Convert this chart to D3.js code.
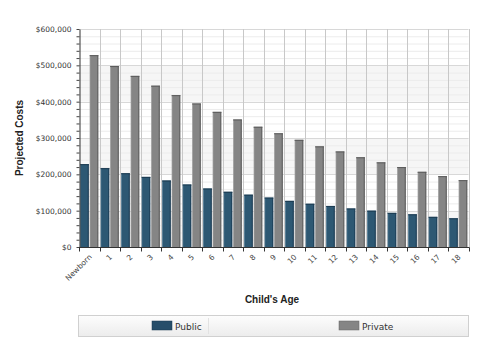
<!DOCTYPE html>
<html><head><meta charset="utf-8">
<script src="https://cdn.jsdelivr.net/npm/d3@7"></script>
<style>body{margin:0;background:#fff}svg{display:block}</style>
</head><body>
<svg id="c" width="480" height="360"></svg>
<script>
const categories = ["Newborn","1","2","3","4","5","6","7","8","9","10","11","12","13","14","15","16","17","18"];
const publicCosts = [228000,217000,203000,193000,183000,172000,161000,152000,144000,136000,127000,119000,113000,106000,100000,94000,90000,83000,79000];
const privateCosts = [528000,498000,471000,444000,418000,395000,372000,351000,331000,313000,295000,277000,263000,247000,233000,220000,207000,195000,184000];
const seriesNames = ["Public","Private"];
const yTicks = [0,100000,200000,300000,400000,500000,600000];

const svg = d3.select("#c");
const m = {l:79, r:468.5, t:29, b:247};
const x = d3.scaleBand().domain(categories).range([m.l, m.r]).padding(0);
const x1 = d3.scaleBand().domain(seriesNames).range([0, x.bandwidth()]).paddingInner(0.08).paddingOuter(0.12);
const y = d3.scaleLinear().domain([0,600000]).range([m.b, m.t]);

const defs = svg.append("defs");
function barGrad(id, light, mid, dark){
  const g = defs.append("linearGradient").attr("id",id).attr("x1","0").attr("x2","1").attr("y1","0").attr("y2","0");
  g.append("stop").attr("offset","0").attr("stop-color",light);
  g.append("stop").attr("offset","0.15").attr("stop-color",mid);
  g.append("stop").attr("offset","0.8").attr("stop-color",mid);
  g.append("stop").attr("offset","1").attr("stop-color",dark);
}
barGrad("gPub","#4a7590","#2d5873","#14324a");
barGrad("gPri","#a4a4a4","#858585","#4e4e4e");
const lg = defs.append("linearGradient").attr("id","gLeg").attr("x1","0").attr("x2","0").attr("y1","0").attr("y2","1");
lg.append("stop").attr("offset","0").attr("stop-color","#fdfdfd");
lg.append("stop").attr("offset","1").attr("stop-color","#ececec");

// alternating bands
const bands = yTicks.slice(0,-1);
svg.append("g").selectAll("rect").data(bands).join("rect")
  .attr("x", m.l).attr("width", m.r - m.l)
  .attr("y", d => y(d+100000)).attr("height", d => y(d) - y(d+100000))
  .attr("fill", (d,i) => i%2===0 ? "#f6f6f6" : "#ffffff");

// minor grid
const minor = d3.range(0, 600001, 20000).filter(v => v%100000 !== 0);
svg.append("g").selectAll("line").data(minor).join("line")
  .attr("x1", m.l).attr("x2", m.r).attr("y1", d => y(d)+0.5).attr("y2", d => y(d)+0.5)
  .attr("stroke","#ececec");
// major grid
svg.append("g").selectAll("line").data(yTicks.filter(v=>v>0)).join("line")
  .attr("x1", m.l).attr("x2", m.r).attr("y1", d => Math.round(y(d))+0.5).attr("y2", d => Math.round(y(d))+0.5)
  .attr("stroke","#d8d8d8");
// vertical grid
svg.append("g").selectAll("line").data(categories.slice(1).concat(["__end"])).join("line")
  .attr("x1", (d,i) => Math.round(m.l + x.step()*(i+1))+0.5)
  .attr("x2", (d,i) => Math.round(m.l + x.step()*(i+1))+0.5)
  .attr("y1", m.t).attr("y2", m.b).attr("stroke","#c8c8c8");

// bars
const gBars = svg.append("g");
categories.forEach((c,i) => {
  const vals = [publicCosts[i], privateCosts[i]];
  seriesNames.forEach((s,j) => {
    gBars.append("rect")
      .attr("x", x(c) + x1(s)).attr("width", x1.bandwidth())
      .attr("y", y(vals[j])).attr("height", y(0) - y(vals[j]))
      .attr("fill", j===0 ? "url(#gPub)" : "url(#gPri)");
    gBars.append("line")
      .attr("x1", x(c) + x1(s)).attr("x2", x(c) + x1(s) + x1.bandwidth())
      .attr("y1", y(vals[j])+0.5).attr("y2", y(vals[j])+0.5)
      .attr("stroke", j===0 ? "#1b3a50" : "#5a5a5a");
  });
});

// y axis
const yAxis = d3.axisLeft(y).tickValues(yTicks).tickSize(0).tickPadding(8)
  .tickFormat(d => "$" + d3.format(",")(d));
const ya = svg.append("g").attr("transform",`translate(${m.l+0.5},0)`).call(yAxis);
ya.select(".domain").attr("stroke","#333");
ya.selectAll("text").attr("font-family","DejaVu Sans, sans-serif").attr("font-size","7.5px").attr("fill","#333");
const yMinor = d3.axisLeft(y).tickValues(d3.range(0,600001,20000)).tickSize(3).tickFormat("");
const ym = svg.append("g").attr("transform",`translate(${m.l+0.5},0)`).call(yMinor);
ym.select(".domain").remove();
ym.selectAll("line").attr("stroke","#444");

// x axis
const xa = svg.append("g").attr("transform",`translate(0,${m.b+0.5})`);
xa.append("line").attr("x1", m.l).attr("x2", m.r+1).attr("stroke","#333");
xa.selectAll("line.t").data(d3.range(categories.length+1)).join("line").attr("class","t")
  .attr("x1", i => Math.round(m.l + x.step()*i)+0.5).attr("x2", i => Math.round(m.l + x.step()*i)+0.5)
  .attr("y1",0).attr("y2",4).attr("stroke","#333");
xa.selectAll("text").data(categories).join("text")
  .attr("transform", d => `translate(${x(d)+x.bandwidth()/2+3},${10}) rotate(-45)`)
  .attr("text-anchor","end")
  .attr("font-family","DejaVu Sans, sans-serif").attr("font-size","7.5px").attr("fill","#444")
  .text(d => d);

// titles
svg.append("text").attr("transform","translate(23,138) rotate(-90)").attr("text-anchor","middle")
  .attr("font-family","Liberation Sans, Arial, sans-serif").attr("font-weight","bold").attr("font-size","10px").attr("fill","#222")
  .text("Projected Costs");
svg.append("text").attr("x",272).attr("y",303).attr("text-anchor","middle")
  .attr("font-family","Liberation Sans, Arial, sans-serif").attr("font-weight","bold").attr("font-size","10px").attr("fill","#222")
  .text("Child's Age");

// legend
const leg = svg.append("g");
leg.append("rect").attr("x",78.5).attr("y",315.5).attr("width",390).attr("height",21)
  .attr("fill","url(#gLeg)").attr("stroke","#d0d0d0");
leg.append("line").attr("x1",208.5).attr("x2",208.5).attr("y1",318).attr("y2",334).attr("stroke","#e2e2e2");
const legX = [152, 339];
seriesNames.forEach((s,j) => {
  leg.append("rect").attr("x",legX[j]).attr("y",321).attr("width",20).attr("height",9)
    .attr("fill", j===0 ? "#264e6a" : "#858585").attr("stroke", j===0 ? "#1b3a50" : "#666").attr("stroke-width",0.5);
  leg.append("text").attr("x",legX[j]+23).attr("y",329.5)
    .attr("font-family","DejaVu Sans, sans-serif").attr("font-size","9px").attr("fill","#333").text(s);
});
</script>
</body></html>
